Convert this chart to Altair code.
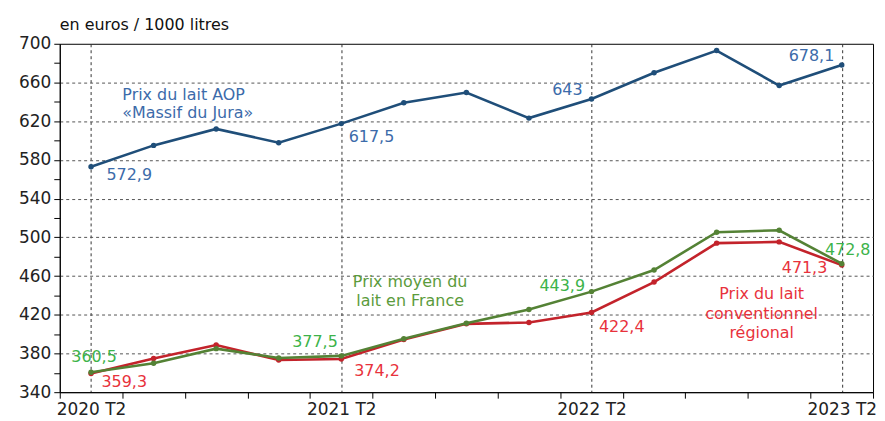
import altair as alt
import pandas as pd

# ---- data ----
quarters = ["2020 T2", "2020 T3", "2020 T4", "2021 T1", "2021 T2", "2021 T3", "2021 T4",
            "2022 T1", "2022 T2", "2022 T3", "2022 T4", "2023 T1", "2023 T2"]
aop = [572.9, 595.0, 612.0, 597.8, 617.5, 639.0, 649.6, 623.2, 643.0, 670.0, 693.0, 656.8, 678.1]
france = [360.5, 369.8, 385.0, 375.3, 377.5, 395.2, 411.3, 425.4, 443.9, 466.2, 505.3, 507.3, 472.8]
regional = [359.3, 374.7, 388.7, 373.2, 374.2, 394.5, 410.6, 412.0, 422.4, 453.8, 494.0, 495.3, 471.3]

series_keys = ["regional", "france", "aop"]  # drawing order
series_vals = {"aop": aop, "france": france, "regional": regional}

y_title = "en euros / 1000 litres"

# annotation lines: (serie, x index, y value, text, align)
annotations = [
    ("aop", 0.5, 647.5, "Prix du lait AOP", "left"),
    ("aop", 0.5, 628.5, "«Massif du Jura»", "left"),
    ("france_ann", 5.1, 453.5, "Prix moyen du", "center"),
    ("france_ann", 5.1, 434.0, "lait en France", "center"),
    ("regional", 10.72, 441.0, "Prix du lait", "center"),
    ("regional", 10.72, 421.0, "conventionnel", "center"),
    ("regional", 10.72, 401.5, "régional", "center"),
]

# value labels: (serie, index, align, dx, dy)
value_labels = [
    ("aop", 0, "left", 15.5, 8.5),
    ("aop", 4, "left", 7.5, 13),
    ("aop", 8, "right", -9, -8.5),
    ("aop", 12, "right", -7.5, -9),
    ("france", 0, "center", 3, -15),
    ("regional", 0, "left", 10.5, 8.5),
    ("france", 4, "right", -3.5, -14),
    ("regional", 4, "left", 13, 11.5),
    ("france", 8, "right", -6.5, -6),
    ("regional", 8, "left", 7.5, 15),
    ("france", 12, "center", 6, -14),
    ("regional", 12, "right", -14.5, 3),
]

line_colors = {"aop": "#1F4E79", "france": "#548235", "regional": "#C3232B"}
text_colors = {"aop": "#3C6BAA", "france": "#3DB34A", "france_ann": "#5B9B3C", "regional": "#E8323C"}

FONT = "DejaVu Sans"
W, H = 817, 350


def fmt(v):
    s = f"{v:.1f}"
    if s.endswith(".0"):
        s = s[:-2]
    return s.replace(".", ",")


rows = []
for key in series_keys:
    for i, (q, v) in enumerate(zip(quarters, series_vals[key])):
        rows.append({"serie": key, "i": i, "trimestre": q, "valeur": v, "lab": fmt(v)})
df = pd.DataFrame(rows)

ann_df = pd.DataFrame(annotations, columns=["serie", "x", "y", "text", "align"])

n = len(quarters)
x_scale = alt.Scale(domain=[-0.5, n - 0.5], nice=False, zero=False)
y_scale = alt.Scale(domain=[340, 700], nice=False, zero=False)

x_vals = [i - 0.5 for i in range(n + 1)] + list(range(0, n, 4))
label_js = "[" + ",".join(f"'{q}'" for q in quarters) + "]"

x_axis = alt.Axis(
    values=x_vals,
    title=None,
    labelExpr=f"datum.value % 4 === 0 ? {label_js}[datum.value] : ''",
    labelOverlap=False,
    labelFlush=False,
    labelFont=FONT,
    labelFontSize=17,
    labelColor="#222222",
    labelPadding=3,
    tickSize=6,
    tickColor="black",
    tickOpacity={"condition": {"test": "datum.value % 1 !== 0", "value": 1}, "value": 0},
    domainColor="black",
    grid=True,
    gridColor="#333333",
    gridDash=[3, 3],
    gridWidth=1,
    gridOpacity={"condition": {"test": "datum.value % 4 === 0", "value": 1}, "value": 0},
)

y_axis = alt.Axis(
    values=list(range(340, 701, 20)),
    title=None,
    labelExpr="(datum.value - 340) % 40 === 0 ? datum.label : ''",
    labelOverlap=False,
    labelFlush=False,
    labelFont=FONT,
    labelFontSize=17,
    labelColor="#222222",
    labelPadding=3,
    tickSize=6,
    tickColor="black",
    domainColor="black",
    minExtent=47,
    maxExtent=47,
    grid=True,
    gridColor="#555555",
    gridDash=[3, 3],
    gridWidth=1,
    gridOpacity={"condition": {"test": "(datum.value - 340) % 40 === 0 && datum.value > 340 && datum.value < 700",
                               "value": 1}, "value": 0},
)


def X(field):
    return alt.X(field, scale=x_scale, axis=x_axis)


def Y(field):
    return alt.Y(field, scale=y_scale, axis=y_axis)


base = alt.Chart(df)

layers = []
for key in series_keys:
    layers.append(
        base.transform_filter(alt.datum.serie == key)
        .mark_line(color=line_colors[key], strokeWidth=2.6,
                   point=alt.OverlayMarkDef(color=line_colors[key], size=30, filled=True))
        .encode(x=X("i:Q"), y=Y("valeur:Q"))
    )

for (key, idx, align, dx, dy) in value_labels:
    layers.append(
        base.transform_filter((alt.datum.serie == key) & (alt.datum.i == idx))
        .mark_text(align=align, baseline="middle", dx=dx, dy=dy, font=FONT, fontSize=16,
                   color=text_colors[key])
        .encode(x=X("i:Q"), y=Y("valeur:Q"), text="lab:N")
    )

for al in ["left", "center"]:
    sub = ann_df[ann_df["align"] == al]
    layers.append(
        alt.Chart(sub)
        .mark_text(align=al, baseline="middle", font=FONT, fontSize=16)
        .encode(x=X("x:Q"), y=Y("y:Q"),
                text="text:N",
                color=alt.Color("serie:N",
                                scale=alt.Scale(domain=list(text_colors.keys()),
                                                range=list(text_colors.values())),
                                legend=None))
    )

chart = (
    alt.layer(*layers)
    .properties(
        width=W, height=H,
        title=alt.TitleParams(y_title, anchor="start", frame="group", fontSize=16, font=FONT,
                              fontWeight="normal", color="#111111", offset=2),
        padding={"left": 5, "top": 8, "right": 0, "bottom": 0},
    )
    .configure(background="white")
    .configure_view(stroke="black", strokeWidth=1)
)

chart.save("out.html", embed_options={"renderer": "svg", "actions": False})
